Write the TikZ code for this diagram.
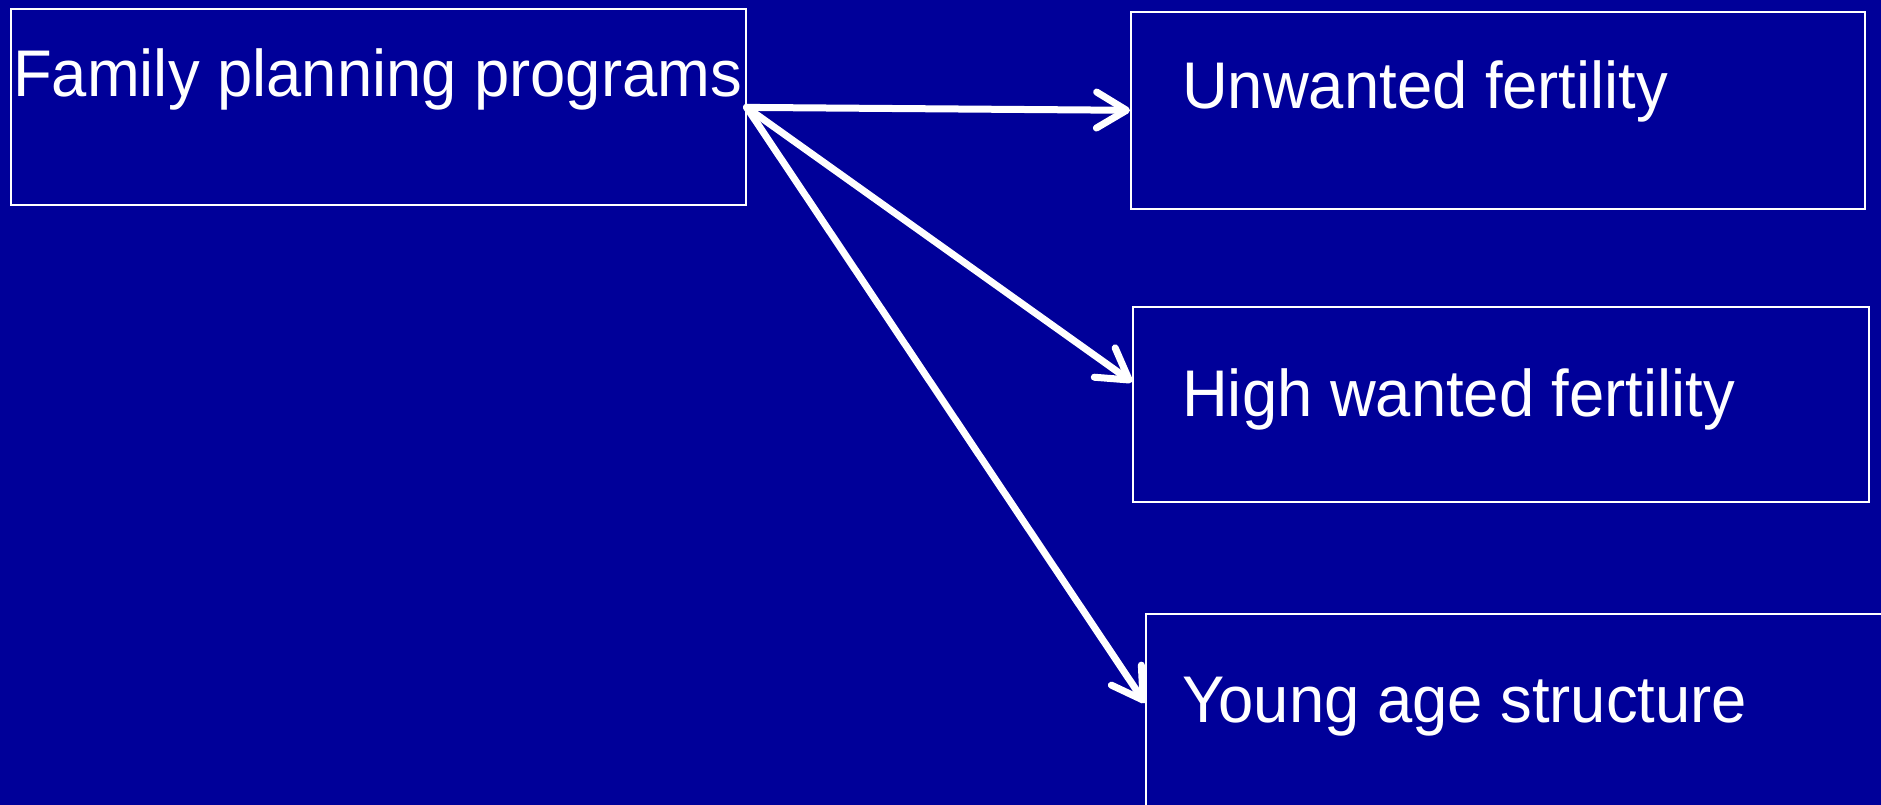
\documentclass[tikz,border=0pt]{standalone}
\usepackage{fontspec}
\setmainfont{Liberation Sans}[FakeStretch=0.96]
\usetikzlibrary{arrows.meta}
\definecolor{bg}{RGB}{0,0,153}
\begin{document}
\begin{tikzpicture}[x=1pt,y=-1pt,
  box/.style={draw=white,line width=2pt,inner sep=0pt,anchor=north west},
  lbl/.style={text=white,font=\fontsize{66}{72}\selectfont,anchor=base west,inner sep=0pt},
  conn/.style={draw=white,line width=7pt,line cap=round,-{Straight Barb[length=30pt,width=36pt,line cap=round,line join=round]}}]
\useasboundingbox (0,0) rectangle (1881,805);
\fill[bg] (0,0) rectangle (1881,805);
\clip (0,0) rectangle (1881,805);
\node[box,minimum width=735pt,minimum height=196pt] (A) at (9.6,8.4) {};
\node[box,minimum width=734pt,minimum height=197pt] (B) at (1130,10.8) {};
\node[box,minimum width=736pt,minimum height=195pt] (C) at (1132,306) {};
\node[box,minimum width=760pt,minimum height=220pt] (D) at (1145,613) {};
\node[lbl] (tA) at (13,97) {Family planning programs};
\node[lbl] (tB) at (1182,109) {Unwanted fertility};
\node[lbl] (tC) at (1182,416) {High wanted fertility};
\node[lbl] (tD) at (1182,722) {Young age structure};
\coordinate (eC) at ([yshift=-76pt]C.north west);
\coordinate (eD) at ([yshift=-90pt]D.north west);
\draw[conn] (A.east) -- (B.west);
\draw[conn] (A.east) -- (eC);
\draw[conn] (A.east) -- (eD);
\end{tikzpicture}
\end{document}
